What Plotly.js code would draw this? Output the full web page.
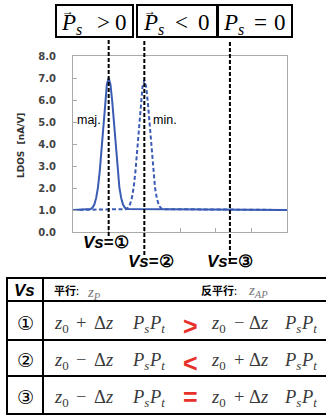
<!DOCTYPE html>
<html><head><meta charset="utf-8">
<script src="https://cdn.plot.ly/plotly-3.0.1.min.js"></script>
<style>html,body{margin:0;padding:0;background:#fff}#chart{width:326px;height:416px}</style>
</head><body><div id="chart"></div>
<script>
// ---- data ----
const solidX = [0, 0.5, 0.55, 0.6, 0.65, 0.7, 0.75, 0.8, 0.85, 0.9, 0.95, 1.0, 1.05, 1.1, 1.15, 1.2, 1.25, 1.3, 1.35, 1.4, 1.45, 1.5, 6];
const solidY = [1.0, 1.05, 1.11, 1.26, 1.55, 2.03, 2.77, 3.75, 4.87, 5.94, 6.71, 7.0, 6.71, 5.94, 4.87, 3.75, 2.77, 2.03, 1.55, 1.26, 1.11, 1.05, 1.0];
const dashX = [0, 1.5, 1.55, 1.6, 1.65, 1.7, 1.75, 1.8, 1.85, 1.9, 1.95, 2.0, 2.05, 2.1, 2.15, 2.2, 2.25, 2.3, 2.35, 2.4, 2.45, 2.5, 6];
const dashY = [1.0, 1.04, 1.11, 1.26, 1.54, 2.01, 2.74, 3.70, 4.80, 5.86, 6.62, 6.9, 6.62, 5.86, 4.80, 3.70, 2.74, 2.01, 1.54, 1.26, 1.11, 1.04, 1.0];
const yTickVals = [0, 1, 2, 3, 4, 5, 6, 7, 8];
const peakLabels = ['maj.', 'min.'];
const vsLinePos = [1.0, 2.0, 4.4];
const vsNums = ['①', '②', '③'];
const boxRel = ['&gt;', '&lt;', '='];
const boxVec = [true, true, false];
const rowSymbols = ['&gt;', '&lt;', '='];
const leftOps = ['+', '−', '−'];
const rightOps = ['−', '+', '+'];
const headParallel = '平行';
const headAnti = '反平行';

// ---- layout helpers (pixel -> paper) ----
const W = 326, H = 416;
const X = px => px / W;
const Y = py => 1 - py / H;
const annotations = [];
const shapes = [];
function txt(text, px, py, o) {
  o = o || {};
  annotations.push({
    xref: 'paper', yref: 'paper', x: X(px), y: Y(py), text: text, showarrow: false,
    xanchor: o.xa || 'center', yanchor: o.ya || 'middle', textangle: o.angle || 0,
    borderpad: 0,
    font: {family: o.family || 'Liberation Sans, Arial, sans-serif', size: o.size || 12,
           color: o.color || '#000', weight: o.weight || 'normal', style: o.style || 'normal'}
  });
}
function line(x0, y0, x1, y1, o) {
  o = o || {};
  shapes.push({type: 'line', xref: 'paper', yref: 'paper', x0: X(x0), x1: X(x1), y0: Y(y0), y1: Y(y1),
    line: {color: o.color || '#000', width: o.width || 2, dash: o.dash || 'solid'}});
}

// top boxes
const boxes = [[56, 133], [137, 217], [218, 292]];
const pLeft = [60, 142, 222];
const relC = [103, 181, 260];
const zeroC = [121, 204, 280];
const serif = 'Liberation Serif, Times New Roman, serif';
boxes.forEach((b, i) => {
  shapes.push({type: 'rect', xref: 'paper', yref: 'paper', x0: X(b[0]), x1: X(b[1]), y0: Y(37), y1: Y(5),
    line: {color: '#000', width: 2}, fillcolor: 'rgba(0,0,0,0)'});
  txt('<i>P<sub>s</sub></i>', pLeft[i], 9, {xa: 'left', ya: 'top', family: serif, size: 23});
  txt(boxRel[i], relC[i], 9, {ya: 'top', family: serif, size: 23});
  txt('0', zeroC[i], 9, {ya: 'top', family: serif, size: 23});
  if (boxVec[i]) txt('→', pLeft[i] + 8, 11, {family: serif, size: 12});
});

// vertical dashed marker lines (data x positions)
const vsEnd = [236, 255, 262];
vsLinePos.forEach((v, i) => {
  shapes.push({type: 'line', xref: 'x', yref: 'paper', x0: v, x1: v, y0: Y(vsEnd[i]), y1: Y(40),
    line: {color: '#000', width: 2, dash: '4px,2px'}});
});

// Vs labels
const vsLab = [[106, 242], [151, 261], [230, 261]];
vsNums.forEach((n, i) => {
  txt('<b><i>Vs</i>=' + n + '</b>', vsLab[i][0], vsLab[i][1], {size: 17});
});

// peak labels
txt(peakLabels[0], 76, 120, {xa: 'left', size: 12.5});
txt(peakLabels[1], 152, 120, {xa: 'left', size: 12.5});

// y-axis title
txt('<b>LDOS  [nA/V]</b>', 21, 146, {angle: -90, size: 9, family: 'DejaVu Sans, sans-serif', color: '#333'});

// table lines
[278, 301, 340, 376, 414].forEach(y => line(6, y, 330, y));
line(7, 277, 7, 415);
line(43, 277, 43, 415);

// header
txt('<b><i>Vs</i></b>', 24, 290, {size: 17});
txt('<b>' + headParallel + '</b>:', 53, 290, {xa: 'left', size: 11, family: 'Noto Sans CJK SC, sans-serif'});
txt('<i>z<sub>P</sub></i>', 86, 283, {xa: 'left', ya: 'top', size: 15, family: serif, color: '#777'});
txt('<b>' + headAnti + '</b>:', 200, 290, {xa: 'left', size: 11, family: 'Noto Sans CJK SC, sans-serif'});
txt('<i>z<sub>AP</sub></i>', 247, 281, {xa: 'left', ya: 'top', size: 15, family: serif, color: '#777'});

// rows
const rowBase = [329, 366, 403];
const numC = [323, 360, 397];
const symC = [326, 363, 397];
const offL = [0, 22, 40, 78, 95];
const offR = [0, 23, 38, 73, 90];
const fcol = '#3a3a3a';
function formula(startX, op, top, off) {
  const pieces = ['<i>z</i><sub>0</sub>', op, 'Δ<i>z</i>', '<i>P<sub>s</sub></i>', '<i>P<sub>t</sub></i>'];
  pieces.forEach((p, k) => txt(p, startX + off[k], top, {xa: 'left', ya: 'top', family: serif, size: 18.5, color: fcol}));
}
rowBase.forEach((b, i) => {
  txt(vsNums[i], 25, numC[i], {size: 19, family: 'DejaVu Sans, sans-serif'});
  formula(53, leftOps[i], b - 17, offL);
  formula(210, rightOps[i], b - 17, offR);
  txt('<b>' + rowSymbols[i] + '</b>', 190, symC[i], {size: 25, color: '#e8302a'});
});

const blue = '#3a5cb4';
const traces = [
  {x: dashX, y: dashY, type: 'scatter', mode: 'lines', line: {color: blue, width: 2, dash: '4px,2.5px'}, hoverinfo: 'skip'},
  {x: solidX, y: solidY, type: 'scatter', mode: 'lines', line: {color: blue, width: 2}, hoverinfo: 'skip'}
];

const layout = {
  width: W, height: H, margin: {l: 0, r: 0, t: 0, b: 0},
  paper_bgcolor: '#fff', plot_bgcolor: '#fff', showlegend: false,
  xaxis: {domain: [X(73), X(287)], range: [0, 6], tick0: 0, dtick: 1, ticks: 'inside', ticklen: 4,
    tickcolor: '#aaa', showticklabels: false, showline: true, mirror: true, linecolor: '#aaa', linewidth: 1,
    showgrid: false, zeroline: false, fixedrange: true},
  yaxis: {domain: [Y(232), Y(56)], range: [0, 8], tickvals: yTickVals, tickformat: '.1f', ticks: 'inside', ticklen: 4,
    tickcolor: '#aaa', ticklabelstandoff: 14, showline: true, mirror: true, linecolor: '#aaa', linewidth: 1,
    showgrid: false, zeroline: false, fixedrange: true,
    tickfont: {family: 'DejaVu Sans, sans-serif', size: 10, color: '#444', weight: 'bold'}},
  shapes: shapes, annotations: annotations
};
Plotly.newPlot('chart', traces, layout, {displayModeBar: false, staticPlot: true});
</script></body></html>
